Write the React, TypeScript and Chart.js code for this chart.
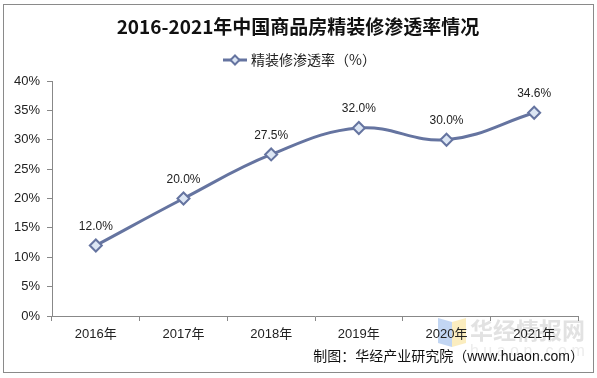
import React, { useEffect, useRef } from "react";
import { Chart, registerables } from "chart.js";

Chart.register(...registerables);

const categories = ["2016年", "2017年", "2018年", "2019年", "2020年", "2021年"];
const penetration = [12.0, 20.0, 27.5, 32.0, 30.0, 34.6];
const yTicks = [0, 5, 10, 15, 20, 25, 30, 35, 40];
const titleText = "2016-2021年中国商品房精装修渗透率情况";
const legendText = "精装修渗透率（%）";
const sourceText = "制图：华经产业研究院（www.huaon.com）";
const watermarkText = "华经情报网";
const watermarkSub = "huaon.com";

const LINE = "#6574A0";
const FILL = "#DCE6F4";
const FONT = "'Liberation Sans', 'Noto Sans CJK SC', sans-serif";

const decorPlugin = {
  id: "decor",
  beforeDraw(chart: any) {
    const ctx = chart.ctx;
    ctx.save();
    ctx.fillStyle = "#ffffff";
    ctx.fillRect(0, 0, chart.width, chart.height);
    ctx.strokeStyle = "#8a8a8a";
    ctx.lineWidth = 1;
    ctx.strokeRect(3.5, 4.5, 590, 368);
    ctx.globalAlpha = 0.55;
    ctx.fillStyle = "#8fb4ea";
    ctx.beginPath();
    ctx.moveTo(438, 318);
    ctx.lineTo(452, 322);
    ctx.lineTo(452, 347);
    ctx.lineTo(438, 343);
    ctx.closePath();
    ctx.fill();
    ctx.fillStyle = "#f7df8a";
    ctx.beginPath();
    ctx.moveTo(452, 322);
    ctx.lineTo(466, 318);
    ctx.lineTo(466, 343);
    ctx.lineTo(452, 347);
    ctx.closePath();
    ctx.fill();
    ctx.globalAlpha = 1;
    ctx.fillStyle = "#e2e2e2";
    ctx.font = "bold 23px 'Noto Sans CJK SC', sans-serif";
    ctx.textAlign = "left";
    ctx.textBaseline = "middle";
    ctx.fillText(watermarkText, 470, 330);
    ctx.fillStyle = "#ececec";
    ctx.font = "16px 'Liberation Sans', sans-serif";
    ctx.fillText(watermarkSub.split("").join(" "), 470, 352);
    ctx.restore();
  },
  afterDraw(chart: any) {
    const ctx = chart.ctx;
    ctx.save();
    ctx.fillStyle = "#111";
    ctx.font = "bold 19px 'Noto Sans CJK SC', serif";
    ctx.textAlign = "center";
    ctx.textBaseline = "middle";
    ctx.fillText(titleText, 298, 27);
    ctx.strokeStyle = LINE;
    ctx.lineWidth = 3;
    ctx.beginPath();
    ctx.moveTo(223, 60);
    ctx.lineTo(247, 60);
    ctx.stroke();
    ctx.fillStyle = FILL;
    ctx.lineWidth = 2;
    ctx.beginPath();
    ctx.moveTo(235, 55.5);
    ctx.lineTo(239.5, 60);
    ctx.lineTo(235, 64.5);
    ctx.lineTo(230.5, 60);
    ctx.closePath();
    ctx.fill();
    ctx.stroke();
    ctx.fillStyle = "#222";
    ctx.font = "14px 'Noto Sans CJK SC', sans-serif";
    ctx.textAlign = "left";
    ctx.fillText(legendText, 251, 60);
    const meta = chart.getDatasetMeta(0);
    ctx.font = "12px " + FONT;
    ctx.textAlign = "center";
    ctx.fillStyle = "#222";
    meta.data.forEach((pt: any, i: number) => {
      ctx.fillText(penetration[i].toFixed(1) + "%", pt.x, pt.y - 19);
    });
    ctx.font = "14px " + FONT;
    ctx.textAlign = "right";
    ctx.fillStyle = "#111";
    ctx.fillText(sourceText, 584, 357);
    ctx.restore();
  },
};

export default function App() {
  const ref = useRef<HTMLCanvasElement>(null);
  useEffect(() => {
    document.body.style.margin = "0";
    const chart = new Chart(ref.current!, {
      type: "line",
      data: {
        labels: categories,
        datasets: [
          {
            data: penetration,
            borderColor: LINE,
            borderWidth: 3,
            tension: 0.4,
            pointStyle: "rectRot",
            pointRadius: 6,
            pointBorderWidth: 2,
            pointBackgroundColor: FILL,
            pointBorderColor: LINE,
            fill: false,
          },
        ],
      },
      options: {
        animation: false,
        responsive: false,
        events: [],
        layout: { padding: { top: 81, right: 19, left: 0, bottom: 0 } },
        plugins: {
          legend: { display: false },
          title: { display: false },
          tooltip: { enabled: false },
        },
        scales: {
          x: {
            offset: true,
            grid: {
              offset: true,
              drawOnChartArea: false,
              tickLength: 5,
              color: "#888",
            },
            border: { color: "#888", width: 1 },
            ticks: {
              padding: 6,
              color: "#222",
              font: { family: FONT, size: 13 },
              maxRotation: 0,
            },
            afterFit(scale: any) {
              scale.height = 62;
            },
          },
          y: {
            min: 0,
            max: 40,
            afterBuildTicks(scale: any) {
              scale.ticks = yTicks.map((v) => ({ value: v }));
            },
            grid: {
              drawOnChartArea: false,
              tickLength: 5,
              color: "#888",
            },
            border: { color: "#888", width: 1 },
            ticks: {
              padding: 7,
              color: "#222",
              font: { family: FONT, size: 13 },
              callback: (v: any) => v + "%",
            },
            afterFit(scale: any) {
              scale.width = 52;
            },
          },
        },
      },
      plugins: [decorPlugin],
    });
    return () => chart.destroy();
  }, []);
  return (
    <div style={{ position: "absolute", left: 0, top: 0, width: 597, height: 378 }}>
      <canvas ref={ref} width={597} height={378} style={{ display: "block" }} />
    </div>
  );
}
